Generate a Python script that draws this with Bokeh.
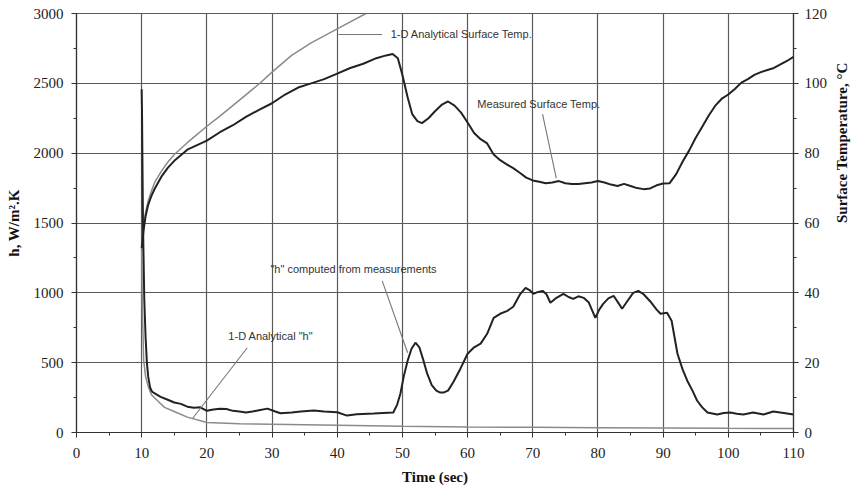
import math
from bokeh.plotting import figure
from bokeh.models import (Range1d, LinearAxis, SingleIntervalTicker, Label, ColumnDataSource)
from bokeh.embed import file_html
from bokeh.resources import INLINE

# ---------------- data ----------------
meas_t_time = [10, 10.3, 10.6, 11, 11.5, 12, 13, 14, 15, 17, 20, 22, 24, 26, 28, 30, 32, 34, 36, 38, 40,
               42, 44, 46, 47.5, 48.5, 49.3, 50, 50.8, 51.5, 52.3, 53, 54, 55, 56, 57, 58, 59, 60, 61, 62,
               63, 64, 65, 66, 67, 68, 69, 70, 71, 72, 73, 74, 75, 76, 77, 78, 79, 80, 81, 82, 83, 84, 85,
               86, 87, 88, 89, 90, 91, 92, 93, 94, 95, 96, 97, 98, 99, 100, 101, 102, 103, 104, 105, 106,
               107, 108, 109, 110]
meas_temp = [52.8, 58.0, 62.0, 65.2, 67.8, 69.8, 73.2, 75.8, 77.8, 81.0, 83.6, 86.0, 88.0, 90.4, 92.4,
             94.3, 96.8, 98.8, 100.0, 101.2, 102.8, 104.4, 105.6, 107.2, 108.0, 108.4, 107.2, 102.4, 96.0,
             91.2, 89.2, 88.6, 90.0, 92.0, 93.8, 94.8, 93.6, 91.6, 88.8, 85.8, 84.0, 82.8, 79.6, 78.0, 76.8,
             75.7, 74.4, 73.0, 72.2, 71.8, 71.4, 71.6, 72.0, 71.4, 71.2, 71.2, 71.4, 71.6, 72.0, 71.6, 71.0,
             70.6, 71.2, 70.6, 70.0, 69.7, 69.9, 70.8, 71.3, 71.4, 74.0, 77.6, 80.8, 84.4, 87.6, 90.8, 93.6,
             95.6, 96.8, 98.4, 100.2, 101.2, 102.4, 103.2, 103.8, 104.4, 105.4, 106.4, 107.6]

anal_t_time = [10, 10.3, 10.6, 11, 11.5, 12, 13, 14, 15, 17, 20, 22, 25, 28, 30, 33, 36, 40, 44.4]
anal_temp = [52.0, 58.8, 63.0, 66.4, 69.2, 71.6, 74.8, 77.4, 79.6, 83.0, 87.7, 90.6, 95.2, 99.8, 103.2,
             108.0, 111.6, 115.6, 120.0]

meas_h_time = [10.0, 10.05, 10.2, 10.4, 10.6, 10.8, 11.0, 11.3, 11.6, 12, 12.9, 13.9, 15, 16, 17, 18, 19,
               20, 21, 22, 23, 24, 25, 26, 27, 28, 29.3, 30.5, 31.3, 33, 34.4, 36.4, 38, 40, 41.5, 43,
               45.6, 47, 48.6, 49.2, 49.7, 50.2, 50.8, 51.4, 52, 52.6, 53.2, 53.8, 54.5, 55.2, 55.8, 56.3,
               57, 57.8, 58.9, 60, 61, 62, 63, 64, 65, 66.1, 67, 68.1, 68.9, 69.5, 70.1, 70.7, 71.5, 72.1,
               72.7, 73.5, 74.7, 75.5, 76.2, 77, 77.8, 78.6, 79.6, 80.2, 80.8, 81.6, 82.4, 83.1, 83.7,
               84.5, 85.4, 86.2, 87, 88, 89, 89.6, 90.6, 91.3, 92.2, 93, 93.7, 94.5, 95.2, 96, 96.8, 98.3,
               99.3, 100.3, 101.3, 102.3, 103.8, 105.4, 106.9, 108.5, 110]
meas_h = [2457, 2300, 1500, 950, 680, 500, 400, 320, 292, 280, 255, 236, 215, 205, 185, 178, 180, 155,
          165, 170, 168, 155, 150, 143, 150, 160, 171, 150, 138, 143, 150, 157, 150, 145, 121, 130, 136,
          140, 143, 200, 279, 400, 514, 600, 643, 610, 520, 421, 340, 300, 286, 286, 300, 360, 457, 564,
          610, 636, 707, 821, 850, 871, 900, 993, 1036, 1020, 993, 1005, 1014, 990, 929, 960, 993, 970,
          957, 975, 964, 930, 821, 880, 921, 960, 979, 930, 886, 940, 1000, 1014, 990, 940, 880, 850, 857,
          800, 564, 450, 371, 300, 229, 180, 143, 129, 140, 143, 135, 129, 143, 129, 150, 140, 129]

anal_h_time = [10.0, 10.1, 10.3, 10.6, 11, 11.5, 12.4, 13.5, 15, 17, 20, 25, 30, 35, 40, 50, 60, 70, 80,
               90, 100, 110]
anal_h = [1320, 900, 520, 400, 330, 270, 229, 180, 150, 110, 71, 63, 59, 56, 52, 45, 40, 37, 34, 32, 30, 29]

x_ticks = list(range(0, 111, 10))
h_ticks = list(range(0, 3001, 500))
temp_ticks = list(range(0, 121, 20))

# annotations: (text, text_x, text_y, leader x0, y0, x1, y1)
annotations = [
    ("1-D Analytical Surface Temp.", 48.2, 2850, 40.2, 2850, 46.9, 2850),
    ("Measured Surface Temp.", 61.5, 2350, 71.5, 2279, 73.6, 1821),
    ('"h" computed from measurements', 29.75, 1171, 46.9, 1086, 50.8, 571),
    ('1-D Analytical "h"', 23.3, 693, 26.2, 607, 17.8, 100),
]

# ---------------- figure ----------------
GRID = "#5a5a5a"
SERIF = "Liberation Serif"
SANS = "Liberation Sans"

p = figure(width=863, height=492, output_backend="svg", toolbar_location=None,
           x_range=Range1d(0, 110), y_range=Range1d(0, 3000),
           min_border_left=76, min_border_right=70, min_border_top=13, min_border_bottom=60,
           background_fill_color="white", border_fill_color="white")
p.outline_line_color = GRID
p.outline_line_width = 1.2
p.extra_y_ranges = {"temp": Range1d(0, 120)}

xax = p.xaxis[0]
left = p.yaxis[0]
xax.ticker = SingleIntervalTicker(interval=10, num_minor_ticks=2)
left.ticker = SingleIntervalTicker(interval=500, num_minor_ticks=2)
xax.axis_label = "Time (sec)"
left.axis_label = "h, W/m².K"

right = LinearAxis(y_range_name="temp", ticker=SingleIntervalTicker(interval=20, num_minor_ticks=2),
                   axis_label="Surface Temperature, °C")
right.axis_label_orientation = math.pi / 2
p.add_layout(right, "right")

for ax in [xax, left, right]:
    ax.axis_line_color = "#333333"
    ax.axis_line_width = 1.2
    ax.major_tick_line_color = "#333333"
    ax.minor_tick_line_color = "#333333"
    ax.major_tick_in = 0
    ax.major_tick_out = 5
    ax.minor_tick_in = 0
    ax.minor_tick_out = 3
    ax.major_label_text_font = SERIF
    ax.major_label_text_font_size = "15px"
    ax.major_label_text_color = "#222222"
    ax.axis_label_text_font = SERIF
    ax.axis_label_text_font_style = "bold"
    ax.axis_label_text_font_size = "15px"
    ax.axis_label_text_color = "#111111"

xax.major_label_standoff = 10
xax.axis_label_standoff = 8
left.major_label_standoff = 8
left.axis_label_standoff = 9
right.major_label_standoff = 6
right.axis_label_standoff = 12

p.xgrid.grid_line_color = GRID
p.ygrid.grid_line_color = GRID
p.xgrid.grid_line_width = 1.2
p.ygrid.grid_line_width = 1.2

# curves
p.line(anal_h_time, anal_h, line_color="#8a8a8a", line_width=1.5)
p.line(anal_t_time, anal_temp, y_range_name="temp", line_color="#8a8a8a", line_width=1.5)
p.line(meas_h_time, meas_h, line_color="#222222", line_width=2)
p.line(meas_t_time, meas_temp, y_range_name="temp", line_color="#222222", line_width=2)

# annotations
seg = ColumnDataSource(dict(x0=[a[3] for a in annotations], y0=[a[4] for a in annotations],
                            x1=[a[5] for a in annotations], y1=[a[6] for a in annotations]))
p.segment("x0", "y0", "x1", "y1", source=seg, line_color="#777777", line_width=1.1)
for txt, tx, ty, *_ in annotations:
    p.add_layout(Label(x=tx, y=ty, text=txt, text_font=SANS, text_font_size="11px",
                       text_color="#333333", text_baseline="middle", text_align="left"))

open("out.html", "w").write(file_html(p, INLINE))
